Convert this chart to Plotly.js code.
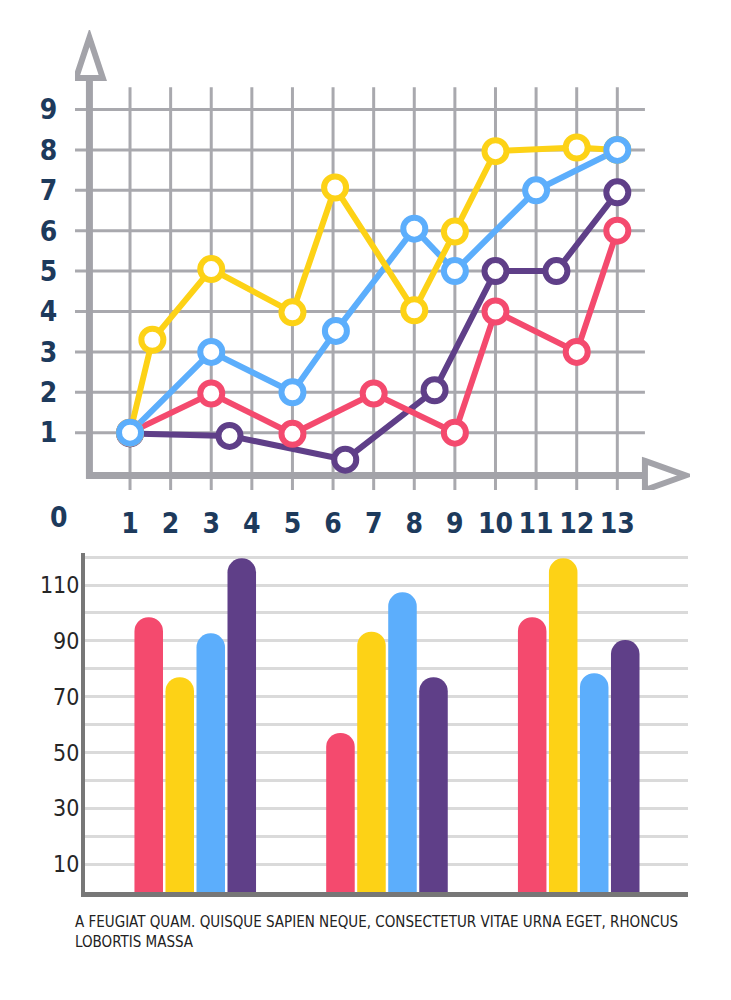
<!DOCTYPE html>
<html>
<head>
<meta charset="utf-8">
<script src="https://cdn.plot.ly/plotly-3.0.1.min.js"></script>
<style>
  html, body { margin: 0; padding: 0; background: #fff; }
  #graph { width: 731px; height: 1000px; }
</style>
</head>
<body>
<div id="graph"></div>
<script>
// Line chart data
const xTicks = [1, 2, 3, 4, 5, 6, 7, 8, 9, 10, 11, 12, 13]
const yTicks = [1, 2, 3, 4, 5, 6, 7, 8, 9]

const purpleX = [1, 3.45, 6.3, 8.5, 10, 11.5, 13]
const purpleY = [0.98, 0.92, 0.33, 2.05, 5, 5, 6.95]
const redX = [1, 3, 5, 7, 9, 10, 12, 13]
const redY = [1, 1.97, 0.97, 1.97, 1, 4, 3, 6]
const yellowX = [1, 1.55, 3, 5, 6.05, 8, 9, 10, 12, 13]
const yellowY = [1, 3.3, 5.05, 3.98, 7.07, 4.03, 5.98, 7.97, 8.06, 8]
const blueX = [1, 3, 5, 6.07, 8, 9, 11, 13]
const blueY = [1, 3, 2, 3.52, 6.05, 5, 7, 8]

// Bar chart data
const groups = ['A', 'B', 'C']
const barRed = [98.5, 57, 98.5]
const barYellow = [77, 93.3, 119.6]
const barBlue = [92.7, 107.4, 78.4]
const barPurple = [119.6, 77, 90.3]
const barTicks = [10, 30, 50, 70, 90, 110]
const barGrid = [10, 20, 30, 40, 50, 60, 70, 80, 90, 100, 110, 120]

const caption = 'A FEUGIAT QUAM. QUISQUE SAPIEN NEQUE, CONSECTETUR VITAE URNA EGET, RHONCUS<br>LOBORTIS MASSA'

const RED = '#f44a6e', YELLOW = '#fdd216', BLUE = '#5caefc', PURPLE = '#5f3f88'
const GRID = '#a9a9ae', AXIS = '#a3a3a9'
const NAVY = '#1d3a5c'
const NARROW = '"DejaVu Sans Condensed", "DejaVu Sans", sans-serif'

const series = [
  {x: purpleX, y: purpleY, color: PURPLE},
  {x: redX, y: redY, color: RED},
  {x: blueX, y: blueY, color: BLUE},
  {x: yellowX, y: yellowY, color: YELLOW},
]

let traces = []

// lines first, markers after so circles sit on top of every line
for (let s of series) {
  traces.push({
    x: s.x, y: s.y, mode: 'lines', type: 'scatter',
    line: {color: s.color, width: 6},
    hoverinfo: 'skip', showlegend: false, xaxis: 'x', yaxis: 'y'
  })
}
// marker order: blue last (on top)
for (let s of [series[0], series[1], series[3], series[2]]) {
  traces.push({
    x: s.x, y: s.y, mode: 'markers', type: 'scatter',
    marker: {symbol: 'circle', size: 22, color: '#ffffff', line: {color: s.color, width: 6}},
    showlegend: false, xaxis: 'x', yaxis: 'y'
  })
}

const bars = [[barRed, RED], [barYellow, YELLOW], [barBlue, BLUE], [barPurple, PURPLE]]
for (let [vals, color] of bars) {
  traces.push({
    x: groups, y: vals, type: 'bar',
    marker: {color: color, cornerradius: '50%'},
    showlegend: false, xaxis: 'x2', yaxis: 'y2'
  })
}

// grid and axes of the line chart, drawn as shapes so they stop short of the arrows
let shapes = []
const gridTop = 9.55, gridBottom = -0.42, gridLeft = -0.355, gridRight = 13.68
for (let v of xTicks)
  shapes.push({type: 'line', xref: 'x', yref: 'y', x0: v, x1: v, y0: gridBottom, y1: gridTop,
    line: {color: GRID, width: 3}, layer: 'below'})
for (let v of yTicks)
  shapes.push({type: 'line', xref: 'x', yref: 'y', x0: gridLeft, x1: gridRight, y0: v, y1: v,
    line: {color: GRID, width: 3}, layer: 'below'})

shapes.push({type: 'line', xref: 'x', yref: 'y', x0: 0, x1: 0, y0: -0.14, y1: 9.8,
  line: {color: AXIS, width: 7}, layer: 'below'})
shapes.push({type: 'line', xref: 'x', yref: 'y', x0: -0.08, x1: 13.7, y0: -0.06, y1: -0.06,
  line: {color: AXIS, width: 7}, layer: 'below'})
shapes.push({type: 'path', xref: 'x', yref: 'y', path: 'M -0.33 9.78 L 0 10.78 L 0.33 9.78 Z',
  fillcolor: '#ffffff', line: {color: AXIS, width: 6}, layer: 'below'})
shapes.push({type: 'path', xref: 'x', yref: 'y', path: 'M 13.68 0.3 L 14.68 -0.06 L 13.68 -0.42 Z',
  fillcolor: '#ffffff', line: {color: AXIS, width: 6}, layer: 'below'})

const boldFont = {family: NARROW, size: 28, color: NAVY, weight: 'bold', stretch: 'condensed'}

const layout = {
  width: 731, height: 1000,
  margin: {l: 0, r: 0, t: 0, b: 0},
  paper_bgcolor: '#ffffff', plot_bgcolor: 'rgba(0,0,0,0)',
  showlegend: false,
  barmode: 'group', bargap: 0.353, bargroupgap: 0.08,
  xaxis: {
    domain: [75 / 731, 690 / 731], range: [-0.355, 14.79],
    tickvals: xTicks, ticktext: xTicks.map(String),
    showgrid: false, zeroline: false, showline: false,
    ticks: 'outside', ticklen: 8, tickcolor: 'rgba(0,0,0,0)',
    tickfont: boldFont,
    fixedrange: true
  },
  yaxis: {
    domain: [0.51, 0.97], range: [-0.42, 10.97],
    tickvals: yTicks, ticktext: yTicks.map(String),
    showgrid: false, zeroline: false, showline: false,
    ticks: 'outside', ticklen: 11, tickcolor: 'rgba(0,0,0,0)',
    tickfont: boldFont,
    fixedrange: true
  },
  xaxis2: {
    domain: [85 / 731, 688 / 731], range: [-0.575, 2.57],
    type: 'category', showticklabels: false, ticks: '',
    showgrid: false, zeroline: false,
    showline: true, linecolor: '#777777', linewidth: 5,
    anchor: 'y2', fixedrange: true
  },
  yaxis2: {
    domain: [0.108, 0.447], range: [0, 121.5],
    tickvals: barGrid, ticktext: barGrid.map(v => barTicks.includes(v) ? String(v) : ''),
    showgrid: true, gridcolor: '#dadada', gridwidth: 3,
    zeroline: false, showline: true, linecolor: '#777777', linewidth: 4,
    ticks: '', ticklabelstandoff: -3,
    tickfont: {family: NARROW, size: 23, color: '#262626', stretch: 'condensed'},
    anchor: 'x2', fixedrange: true
  },
  shapes: shapes,
  annotations: [
    {xref: 'paper', yref: 'paper', x: 48 / 731, y: 1 - 517 / 1000, text: '0', showarrow: false,
      font: boldFont},
    {xref: 'paper', yref: 'paper', x: 73 / 731, y: 1 - 911 / 1000, xanchor: 'left', yanchor: 'top',
      align: 'left', text: caption, showarrow: false,
      font: {family: NARROW, size: 15, color: '#222222', stretch: 'condensed'}}
  ]
}

Plotly.newPlot('graph', traces, layout, {staticPlot: true})
</script>
</body>
</html>
